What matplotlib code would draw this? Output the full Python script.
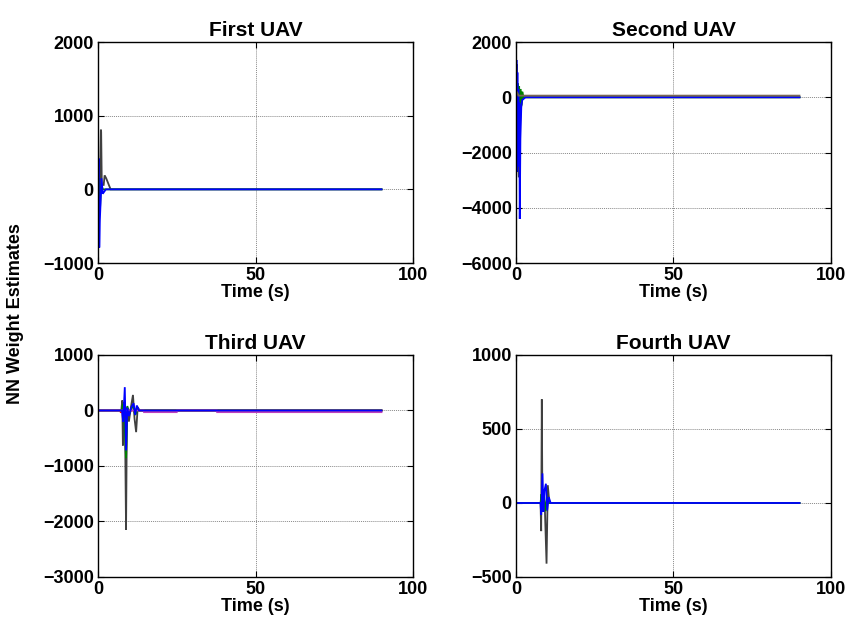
import matplotlib
matplotlib.use("Agg")
import matplotlib.pyplot as plt

plt.rcParams['font.family'] = ['Liberation Sans', 'DejaVu Sans']
plt.rcParams['font.weight'] = 'bold'

# ---- colours of the weight traces ----
BLUE = '#0000ff'
GREEN = '#008000'
DARK = '#404040'
MAGENTA = '#c040c0'
RED = '#ff0000'
BROWN = '#7a6656'

# ---- First UAV: weight estimates (time in s, weight) ----
uav1_dark_t = [0, 0.2, 0.5, 0.9, 1.0, 1.2, 1.8, 2.1, 2.6, 4.0, 90]
uav1_dark_w = [0, -650, -200, 810, 780, 60, 60, 190, 150, 0, 0]
uav1_green_t = [0, 0.3, 0.6, 1.0, 1.5, 90]
uav1_green_w = [0, 150, -300, 80, 0, 0]
uav1_blue_t = [0, 0.2, 0.4, 0.6, 0.8, 1.1, 1.5, 2.5, 90]
uav1_blue_w = [0, 420, -790, -400, -200, 150, -60, 0, 0]

# ---- Second UAV ----
uav2_dark_t = [0, 0.2, 0.5, 0.9, 1.4, 2.0, 90]
uav2_dark_w = [0, 1200, -1800, -2900, -600, 0, 0]
uav2_green_t = [0, 0.2, 0.4, 0.6, 0.8, 1.0, 1.2, 1.4, 1.7, 2.0, 2.4, 90]
uav2_green_w = [0, 650, -1150, 500, -900, 400, -700, 300, -300, 200, 0, 0]
uav2_brown_t = [0, 0.3, 0.8, 90]
uav2_brown_w = [0, 200, 60, 60]
uav2_blue_t = [0, 0.15, 0.3, 0.45, 0.6, 0.75, 0.9, 1.05, 1.2, 1.4, 1.7, 2.0, 3.0, 90]
uav2_blue_w = [0, 1350, -2700, 900, -2500, 300, -1800, -200, -4400, -1500, -300, -100, 0, 0]

# ---- Third UAV ----
uav3_dark_t = [0, 7.4, 7.7, 7.9, 8.2, 8.6, 8.9, 9.2, 9.8, 10.5, 11.1, 11.6, 12.1, 12.6, 13.2, 90]
uav3_dark_w = [0, 0, 180, -630, 150, -400, -2150, 60, -200, 80, 280, -150, -390, 60, 0, 0]
uav3_red_t = [0, 7.0, 7.2, 10.0, 10.2, 90]
uav3_red_w = [0, 0, -30, -30, 0, 0]
uav3_green_t = [0, 7.5, 7.9, 8.4, 8.9, 9.3, 10.0, 11.0, 11.8, 12.5, 90]
uav3_green_w = [0, 0, 120, -200, -860, 80, -60, 100, -80, 0, 0]
uav3_magenta_t = [0, 14.5, 14.6, 25.0, 25.1, 37.7, 37.8, 90]
uav3_magenta_w = [0, 0, -30, -30, 0, 0, -30, -30]
uav3_blue_t = [0, 7.6, 8.0, 8.5, 8.9, 9.3, 9.8, 10.6, 11.3, 11.8, 12.3, 13.0, 90]
uav3_blue_w = [0, 0, -200, 420, -720, 50, -100, 60, 130, -80, 90, 0, 0]

# ---- Fourth UAV ----
uav4_dark_t = [0, 7.8, 8.0, 8.2, 8.4, 8.8, 9.2, 9.7, 10.1, 10.6, 90]
uav4_dark_w = [0, 0, -190, 700, -40, 60, -60, -410, 120, 0, 0]
uav4_green_t = [0, 7.8, 8.1, 8.5, 8.9, 9.4, 9.9, 10.4, 90]
uav4_green_w = [0, 0, 60, -60, 50, -55, 40, 0, 0]
uav4_blue_t = [0, 7.8, 8.0, 8.4, 8.7, 9.0, 9.5, 9.9, 10.4, 11.0, 90]
uav4_blue_w = [0, 0, -80, 200, -60, 80, 130, -50, 40, 0, 0]

titles = ['First UAV', 'Second UAV', 'Third UAV', 'Fourth UAV']
y_limits = [(-1000, 2000), (-6000, 2000), (-3000, 1000), (-500, 1000)]
y_ticks = [[-1000, 0, 1000, 2000],
           [-6000, -4000, -2000, 0, 2000],
           [-3000, -2000, -1000, 0, 1000],
           [-500, 0, 500, 1000]]
x_ticks = [0, 50, 100]

panels = [
    [(uav1_dark_t, uav1_dark_w, DARK), (uav1_green_t, uav1_green_w, GREEN),
     (uav1_blue_t, uav1_blue_w, BLUE)],
    [(uav2_dark_t, uav2_dark_w, DARK), (uav2_green_t, uav2_green_w, GREEN),
     (uav2_blue_t, uav2_blue_w, BLUE), (uav2_brown_t, uav2_brown_w, BROWN)],
    [(uav3_dark_t, uav3_dark_w, DARK), (uav3_red_t, uav3_red_w, RED),
     (uav3_green_t, uav3_green_w, GREEN), (uav3_magenta_t, uav3_magenta_w, MAGENTA),
     (uav3_blue_t, uav3_blue_w, BLUE)],
    [(uav4_dark_t, uav4_dark_w, DARK), (uav4_green_t, uav4_green_w, GREEN),
     (uav4_blue_t, uav4_blue_w, BLUE)],
]

fig = plt.figure(figsize=(8.53, 6.33), dpi=100)
positions = [
    [0.1149, 0.5845, 0.3693, 0.3491],
    [0.6049, 0.5845, 0.3693, 0.3491],
    [0.1149, 0.0885, 0.3693, 0.3507],
    [0.6049, 0.0885, 0.3693, 0.3507],
]

for pos, title, ylim, yt, series in zip(positions, titles, y_limits, y_ticks, panels):
    ax = fig.add_axes(pos)
    for t, w, c in series:
        ax.plot(t, w, color=c, lw=1.3, solid_joinstyle='miter')
    ax.set_xlim(0, 100)
    ax.set_ylim(*ylim)
    ax.set_xticks(x_ticks)
    ax.set_yticks(yt)
    ax.grid(True, color='#8a8a8a', linestyle=(0, (1, 1)), linewidth=0.7)
    ax.tick_params(direction='in', length=4, width=0.8, top=True, right=True,
                   labelsize=13, pad=3)
    for lab in ax.get_xticklabels() + ax.get_yticklabels():
        lab.set_fontweight('bold')
    for sp in ax.spines.values():
        sp.set_linewidth(1.0)
        sp.set_color('black')
    ax.set_title(title, fontsize=15, fontweight='bold', pad=4)
    ax.set_xlabel('Time (s)', fontsize=13, fontweight='bold', labelpad=0)

fig.text(0.018, 0.505, 'NN Weight Estimates', rotation=90, ha='center', va='center',
         fontsize=13, fontweight='bold')

fig.savefig('out.png', dpi=100, facecolor='white')
